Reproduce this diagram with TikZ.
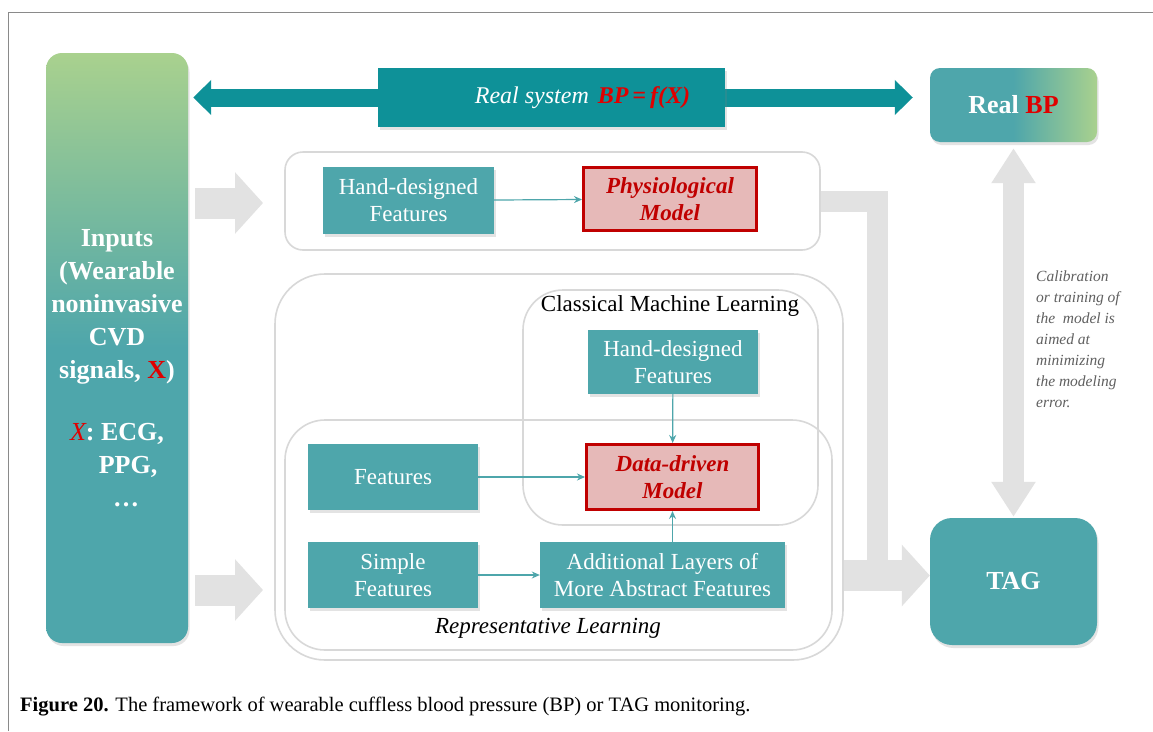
\documentclass[tikz,border=0pt]{standalone}
\usepackage{fontspec}
\setmainfont{Liberation Serif}
\usetikzlibrary{arrows.meta,shadows}
\definecolor{tealbox}{HTML}{4EA6AB}
\definecolor{tealdark}{HTML}{0E9198}
\definecolor{tgreen}{HTML}{A9D18E}
\definecolor{redbp}{HTML}{E00000}
\definecolor{darkred}{HTML}{C00000}
\definecolor{pinkfill}{HTML}{E6B9B8}
\definecolor{grayarrow}{HTML}{E2E2E2}
\definecolor{grayline}{HTML}{D8D8D8}
\definecolor{calgray}{HTML}{606060}
\definecolor{framegray}{HTML}{8A8A8A}
\pgfdeclareverticalshading{inshade}{100bp}{color(0bp)=(tealbox); color(25bp)=(tealbox); color(50bp)=(tealbox); color(75bp)=(tgreen); color(100bp)=(tgreen)}
\pgfdeclarehorizontalshading{bpshade}{100bp}{color(0bp)=(tealbox); color(25bp)=(tealbox); color(50bp)=(tealbox); color(75bp)=(tgreen); color(100bp)=(tgreen)}
\newcommand\fsz[2]{\fontsize{#1}{#2}\selectfont}
\begin{document}
\begin{tikzpicture}[x=1pt,y=-1pt,
  softshadow/.style={drop shadow={opacity=0.22,shadow xshift=1.5pt,shadow yshift=-3pt}},
  featbox/.style={fill=tealbox,text=white,font=\fsz{23}{27},align=center,inner sep=0pt,softshadow},
  modelbox/.style={fill=pinkfill,draw=darkred,line width=3pt,text=darkred,font=\fsz{23}{27}\bfseries\itshape,align=center,inner sep=0pt},
  group/.style={draw=grayline,line width=1.6pt},
  conn/.style={draw=tealbox,line width=1.2pt,-{Stealth[length=8pt,width=7pt]}},
  bigarr/.style={draw=grayarrow,line width=31pt,-{Triangle[width=60pt,length=28pt]}},
  dblarr/.style={draw=tealdark,line width=18pt,{Triangle[width=34pt,length=18pt]}-{Triangle[width=34pt,length=18pt]}},
  vertarr/.style={draw=grayarrow,line width=21pt,{Triangle[width=42pt,length=35pt]}-{Triangle[width=42pt,length=35pt]}},
  lbar/.style={draw=grayarrow,line width=21pt}
]
\useasboundingbox (0,0) rectangle (1153,731);
\fill[white] (0,0) rectangle (1153,731);
\draw[framegray,line width=1pt] (8,731) -- (8,12) -- (1153,12);

% groups
\node[group,rounded corners=18pt,minimum width=535pt,minimum height=98pt] (physgrp) at (552.5,201) {};
\node[group,rounded corners=50pt,minimum width=568pt,minimum height=386pt] (outer) at (559,467) {};
\node[group,rounded corners=40pt,minimum width=295pt,minimum height=235pt] (cml) at (670.5,407.5) {};
\node[group,rounded corners=40pt,minimum width=547pt,minimum height=230pt] (rl) at (558.5,535) {};

% inputs, Real BP, TAG
\node[shading=inshade,rounded corners=16pt,minimum width=142pt,minimum height=590pt,inner sep=0pt,softshadow] (inputs) at (117,348) {};
\node[text=white,font=\fsz{26}{33}\bfseries,align=center] (intext) at (117,368) {Inputs\\(Wearable\\noninvasive\\CVD\\signals, \textcolor{redbp}{X})\\[29pt]\textcolor{redbp}{\mdseries\itshape X}: ECG,\\\hspace*{22pt}PPG,\\\hspace*{18pt}\dots};
\node[shading=bpshade,rounded corners=10pt,minimum width=167pt,minimum height=74pt,inner sep=0pt,text=white,font=\fsz{26}{30}\bfseries,softshadow] (realbp) at (1013.5,105) {Real \textcolor{redbp}{BP}};
\node[fill=tealbox,rounded corners=22pt,minimum width=167pt,minimum height=127pt,inner sep=0pt,text=white,font=\fsz{26}{30}\bfseries,softshadow] (tagbox) at (1013.5,581.5) {TAG};

% gray connectors
\coordinate (lbend) at (877,201);
\coordinate (tagin) at ([yshift=6pt]tagbox.west);
\draw[lbar] (physgrp.east) -- (lbend) -- (lbend |- tagin);
\draw[bigarr] (outer.east |- tagin) -- (tagin);

\coordinate (b1) at (285,203);
\coordinate (b2) at (275,590);
\draw[bigarr,shorten >=22pt] ([xshift=7pt]inputs.east |- b1) -- (b1);
\draw[bigarr,shorten >=12pt] ([xshift=7pt]inputs.east |- b2) -- (b2);

% real system
\coordinate (rsc) at (551.5,97.5);
\draw[dblarr,shorten <=5pt,shorten >=17pt] (inputs.east |- rsc) -- (realbp.west |- rsc);
\node[fill=tealdark,minimum width=347pt,minimum height=59pt,inner sep=0pt,text=white,font=\fsz{24}{28},softshadow] (rs) at (rsc) {\hspace*{62pt}\textit{Real system}\hspace{9pt}\textcolor{redbp}{\bfseries\itshape BP\,=\,f(X)}};

\draw[vertarr,shorten <=6pt,shorten >=1pt] (realbp.south) -- (tagbox.north);

\node[anchor=north west,text=calgray,font=\fsz{15.5}{21}\itshape,align=left,inner sep=0pt] (cal) at (1036,271) {Calibration\\or training of\\the\ \ model is\\aimed at\\minimizing\\the modeling\\error.};

% physiological row
\node[featbox,minimum width=171pt,minimum height=67pt] (hdf1) at (408.5,200.5) {Hand-designed\\Features};
\node[modelbox,minimum width=173pt,minimum height=63pt] (phys) at (670,199) {Physiological\\Model};
\draw[conn] (hdf1) -- (phys);

% classical ML
\node[font=\fsz{23}{27},inner sep=0pt] (cmllab) at (670,306) {Classical Machine Learning};
\node[featbox,minimum width=170pt,minimum height=64pt] (hdf2) at (673,362) {Hand-designed\\Features};
\node[modelbox,minimum width=172pt,minimum height=65pt] (ddm) at (672.5,477) {Data-driven\\Model};
\node[featbox,minimum width=170pt,minimum height=66pt] (feat) at (393,477) {Features};
\node[featbox,minimum width=170pt,minimum height=66pt] (simple) at (393,575) {Simple\\Features};
\node[featbox,minimum width=245pt,minimum height=66pt] (addl) at (662.5,575) {Additional Layers of\\More Abstract Features};
\draw[conn] (hdf2) -- (ddm);
\draw[conn] (feat) -- (ddm);
\draw[conn] (addl.north -| ddm.south) -- (ddm.south);
\draw[conn] (simple) -- (addl);
\node[font=\fsz{23}{27}\itshape,inner sep=0pt] (rllab) at (548,628) {Representative Learning};

% caption
\node[anchor=base west,inner sep=0pt,font=\fsz{20.5}{24}] (cap) at (20,711) {\textbf{Figure 20.} The framework of wearable cuffless blood pressure (BP) or TAG monitoring.};
\end{tikzpicture}
\end{document}
